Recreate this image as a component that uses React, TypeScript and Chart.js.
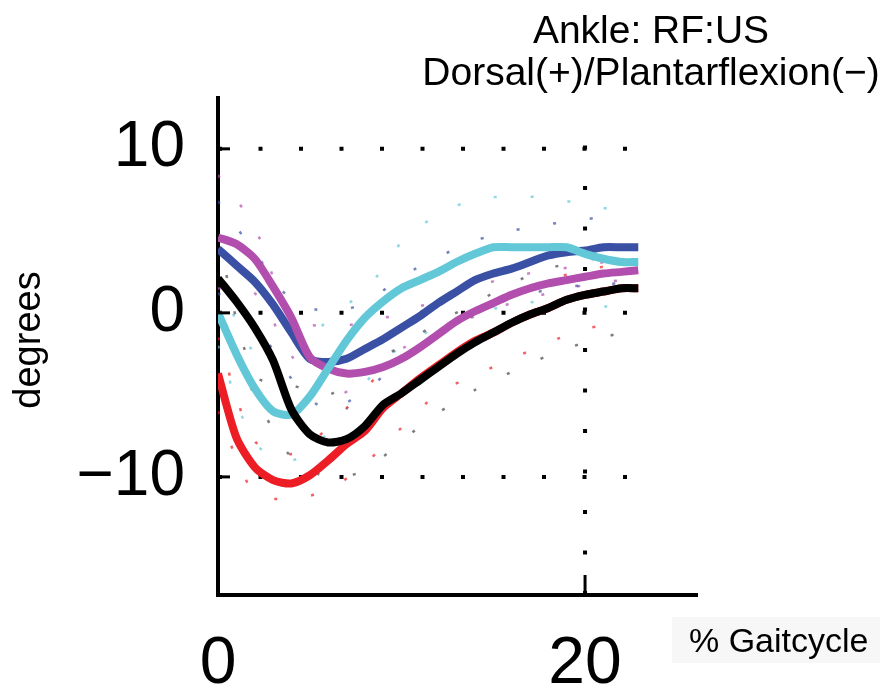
import React, { useEffect, useRef } from 'react';
import { Chart, registerables } from 'chart.js';

Chart.register(...registerables);

// % gait cycle sample positions for the mean curves
const GAIT_X = [0, 1, 2, 3, 4, 5, 6, 7, 8, 9, 10, 11, 12, 13, 14, 15, 16, 17, 18, 19, 20, 21, 22, 22.9];
// mean curves (degrees)
const RED_MEAN = [-3.7, -7.6, -9.4, -10.2, -10.4, -9.9, -9.0, -8.0, -7.2, -5.8, -4.9, -4.0, -3.2, -2.4, -1.7, -1.2, -0.6, -0.1, 0.3, 0.8, 1.1, 1.3, 1.5, 1.5];
const BLACK_MEAN = [2.1, 0.7, -0.9, -2.9, -5.9, -7.4, -7.9, -7.7, -6.9, -5.6, -4.9, -4.1, -3.3, -2.5, -1.8, -1.2, -0.6, -0.1, 0.3, 0.8, 1.1, 1.3, 1.5, 1.5];
const BLUE_MEAN = [3.9, 2.9, 1.9, 0.5, -1.2, -2.8, -3.0, -2.8, -2.2, -1.6, -0.9, -0.2, 0.6, 1.3, 2.0, 2.4, 2.7, 3.1, 3.5, 3.7, 3.8, 4.0, 4.0, 4.0];
const MAGENTA_MEAN = [4.6, 4.2, 3.3, 1.6, -0.3, -2.7, -3.4, -3.7, -3.6, -3.3, -2.8, -2.1, -1.3, -0.5, 0.1, 0.6, 1.1, 1.5, 1.8, 2.0, 2.2, 2.4, 2.5, 2.6];
const CYAN_MEAN = [0.0, -2.5, -4.6, -6.0, -6.2, -5.1, -3.4, -1.7, -0.3, 0.7, 1.5, 2.0, 2.5, 3.1, 3.6, 4.0, 4.0, 4.0, 4.0, 4.0, 3.6, 3.3, 3.1, 3.1];

// sparse dotted spread curves
const BAND_X = [0, 2, 4, 6, 8, 10, 12, 14, 16, 18, 20, 22];
const RED_UP = [-1.5, -7.8, -8.6, -7.0, -4.6, -2.6, -1.2, 0.2, 1.2, 2.0, 2.6, 3.0];
const RED_LO = [-6.0, -11.0, -11.3, -10.8, -9.2, -7.0, -4.9, -3.8, -2.8, -1.8, -1.0, -0.5];
const BLACK_UP = [4.5, -3.8, -4.4, -5.0, -3.4, -2.0, -0.6, 0.6, 1.8, 2.7, 3.2, 3.5];
const BLACK_LO = [-0.5, -5.0, -8.8, -10.0, -9.6, -7.8, -6.1, -4.7, -3.6, -2.6, -1.8, -1.2];
const CYAN_UP = [2.0, -2.5, -3.8, -0.3, 1.3, 4.3, 6.0, 6.9, 7.1, 7.0, 6.6, 6.2];
const CYAN_LO = [-2.0, -7.9, -9.0, -7.3, -4.3, -2.0, -0.9, -0.1, 0.5, 0.7, 0.6, 0.2];
const BLUE_UP = [6.8, 3.7, 0.8, 0.1, 0.6, 2.2, 3.4, 4.4, 5.0, 5.4, 5.7, 6.0];
const BLUE_LO = [1.2, -0.6, -4.0, -5.9, -4.7, -3.0, -1.4, -0.1, 0.9, 1.4, 1.7, 1.8];
const MAGENTA_UP = [8.4, 5.2, -0.3, -0.8, -0.6, 0.0, 0.8, 1.6, 2.2, 2.6, 2.9, 3.3];
const MAGENTA_LO = [1.5, 1.2, -2.6, -5.2, -4.0, -2.2, -1.2, -0.2, 0.6, 1.2, 1.7, 2.0];

const X_TICKS = [0, 20];
const Y_TICKS = [-10, 0, 10];
const X_MIN = 0;
const X_MAX = 26.1;
const Y_MIN = -17.2;
const Y_MAX = 13.1;
const GRID_X_END = 22.3;
const GRID_Y_TOP = 11.8;

const TITLE_LINES = ['Ankle: RF:US', 'Dorsal(+)/Plantarflexion(\u2212)'];
const Y_LABEL = 'degrees';
const X_LABEL = '% Gaitcycle';

const COLORS = {
  red: '#ec1d25',
  black: '#000000',
  blue: '#3a50a4',
  magenta: '#b24fae',
  cyan: '#62c8d8',
};

const FONT = "'Liberation Sans', Arial, sans-serif";

function pts(xs: number[], ys: number[]) {
  return xs.map((x, i) => ({ x, y: ys[i] }));
}

function hexA(hex: string, a: number) {
  const r = parseInt(hex.slice(1, 3), 16);
  const g = parseInt(hex.slice(3, 5), 16);
  const b = parseInt(hex.slice(5, 7), 16);
  return `rgba(${r},${g},${b},${a})`;
}

const decorPlugin = {
  id: 'decor',
  beforeDatasetsDraw(chart: any) {
    const { ctx, scales } = chart;
    const xs = scales.x;
    const ys = scales.y;
    ctx.save();
    ctx.strokeStyle = '#000';
    ctx.lineWidth = 4;
    ctx.setLineDash([4, 36.5]);
    for (const v of Y_TICKS) {
      const py = ys.getPixelForValue(v);
      ctx.beginPath();
      ctx.moveTo(xs.getPixelForValue(0), py);
      ctx.lineTo(xs.getPixelForValue(GRID_X_END), py);
      ctx.stroke();
    }
    const px = xs.getPixelForValue(20);
    ctx.beginPath();
    ctx.moveTo(px, ys.getPixelForValue(Y_MIN));
    ctx.lineTo(px, ys.getPixelForValue(GRID_Y_TOP));
    ctx.stroke();
    ctx.restore();
  },
  afterDraw(chart: any) {
    const { ctx, scales } = chart;
    const xs = scales.x;
    const ys = scales.y;
    ctx.save();
    // inward tick marks
    ctx.strokeStyle = '#000';
    ctx.lineWidth = 3;
    const left = xs.getPixelForValue(0);
    for (const v of Y_TICKS) {
      const py = ys.getPixelForValue(v);
      ctx.beginPath();
      ctx.moveTo(left, py);
      ctx.lineTo(left + 12, py);
      ctx.stroke();
    }
    const bottom = ys.getPixelForValue(Y_MIN);
    for (const v of X_TICKS) {
      const px = xs.getPixelForValue(v);
      ctx.beginPath();
      ctx.moveTo(px, bottom);
      ctx.lineTo(px, bottom - 20);
      ctx.stroke();
    }
    // title
    ctx.fillStyle = '#000';
    ctx.textAlign = 'center';
    ctx.textBaseline = 'alphabetic';
    ctx.font = `39px ${FONT}`;
    ctx.fillText(TITLE_LINES[0], 651, 43);
    ctx.fillText(TITLE_LINES[1], 651, 85);
    // y label
    ctx.save();
    ctx.translate(40, 340);
    ctx.rotate(-Math.PI / 2);
    ctx.font = `38px ${FONT}`;
    ctx.textAlign = 'center';
    ctx.fillText(Y_LABEL, 0, 0);
    ctx.restore();
    // x label with pale box
    ctx.fillStyle = '#f7f7f7';
    ctx.fillRect(672, 617, 208, 46);
    ctx.fillStyle = '#000';
    ctx.font = `34px ${FONT}`;
    ctx.textAlign = 'left';
    ctx.fillText(X_LABEL, 689, 652);
    ctx.restore();
  },
};

export default function App() {
  const ref = useRef<HTMLCanvasElement | null>(null);
  useEffect(() => {
    if (!ref.current) return;
    const mean = (label: string, xs: number[], ys: number[], color: string) => ({
      label,
      data: pts(xs, ys),
      borderColor: color,
      backgroundColor: color,
      borderWidth: 8,
      pointRadius: 0,
      tension: 0.25,
      fill: false,
    });
    const band = (label: string, xs: number[], ys: number[], color: string) => ({
      label,
      data: pts(xs, ys),
      borderColor: hexA(color, 0.7),
      borderWidth: 2.5,
      borderDash: [3, 34],
      pointRadius: 0,
      tension: 0.3,
      fill: false,
    });
    const chart = new Chart(ref.current, {
      type: 'line',
      data: {
        datasets: [
          mean('black', GAIT_X, BLACK_MEAN, COLORS.black),
          mean('cyan', GAIT_X, CYAN_MEAN, COLORS.cyan),
          mean('magenta', GAIT_X, MAGENTA_MEAN, COLORS.magenta),
          mean('blue', GAIT_X, BLUE_MEAN, COLORS.blue),
          mean('red', GAIT_X, RED_MEAN, COLORS.red),
          band('red up', BAND_X, RED_UP, COLORS.red),
          band('red lo', BAND_X, RED_LO, COLORS.red),
          band('black up', BAND_X, BLACK_UP, '#444444'),
          band('black lo', BAND_X, BLACK_LO, '#444444'),
          band('cyan up', BAND_X, CYAN_UP, COLORS.cyan),
          band('cyan lo', BAND_X, CYAN_LO, COLORS.cyan),
          band('blue up', BAND_X, BLUE_UP, COLORS.blue),
          band('blue lo', BAND_X, BLUE_LO, COLORS.blue),
          band('magenta up', BAND_X, MAGENTA_UP, COLORS.magenta),
          band('magenta lo', BAND_X, MAGENTA_LO, COLORS.magenta),
        ],
      },
      options: {
        responsive: false,
        animation: false,
        layout: { padding: { left: 0, right: 190, top: 98, bottom: 0 } },
        plugins: {
          legend: { display: false },
          tooltip: { enabled: false },
          title: { display: false },
        },
        scales: {
          x: {
            type: 'linear',
            min: X_MIN,
            max: X_MAX,
            afterBuildTicks: (s: any) => {
              s.ticks = X_TICKS.map((v) => ({ value: v }));
            },
            afterFit: (s: any) => {
              s.height = 94;
            },
            grid: { display: false, drawTicks: false },
            border: { display: true, color: '#000', width: 4 },
            ticks: {
              color: '#000',
              font: { family: FONT, size: 66 },
              padding: 30,
              maxRotation: 0,
              callback: (v: any) => String(v),
            },
          },
          y: {
            type: 'linear',
            min: Y_MIN,
            max: Y_MAX,
            afterBuildTicks: (s: any) => {
              s.ticks = Y_TICKS.map((v) => ({ value: v }));
            },
            afterFit: (s: any) => {
              s.width = 218;
            },
            grid: { display: false, drawTicks: false },
            border: { display: true, color: '#000', width: 4 },
            ticks: {
              color: '#000',
              font: { family: FONT, size: 64 },
              padding: 33,
              callback: (v: any) => (v < 0 ? '\u2212' + Math.abs(v) : String(v)),
            },
          },
        },
      },
      plugins: [decorPlugin],
    });
    return () => chart.destroy();
  }, []);
  return (
    <div style={{ position: 'absolute', left: 0, top: 0, width: 887, height: 689, background: '#fff' }}>
      <canvas ref={ref} width={887} height={689} />
    </div>
  );
}
